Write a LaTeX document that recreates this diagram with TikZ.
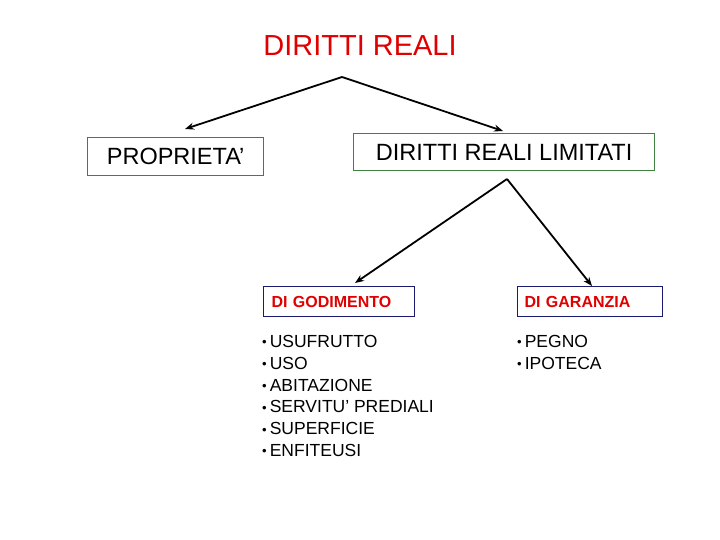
\documentclass[tikz,border=0pt]{standalone}
\usepackage{fontspec}
\setmainfont{Liberation Sans}
\usetikzlibrary{arrows.meta}
\definecolor{boxgreen}{HTML}{3F8040}
\definecolor{boxblue}{HTML}{1A1A6E}
\definecolor{tred}{HTML}{E00000}
\newcommand{\bul}{\raisebox{0.5pt}{\scalebox{0.75}{•}}\hspace{3pt}}
\tikzset{
  gbox/.style={draw=boxgreen, line width=1.3pt, inner sep=0pt, anchor=north west},
  bbox/.style={draw=boxblue, line width=1.3pt, inner sep=0pt, anchor=north west},
  arr/.style={line width=1.8pt, -{Stealth[length=9pt,width=7pt]}},
  lst/.style={anchor=north west, inner sep=0pt, align=left, font=\fontsize{17.5}{21.8}\selectfont}
}
\begin{document}
\begin{tikzpicture}[x=1pt,y=-1pt]
\useasboundingbox (0,0) rectangle (720,540);
\node[text=tred, font=\fontsize{29}{32}\selectfont] (title) at (360,46) {DIRITTI REALI};
\coordinate (a1) at (342,77);
\node[gbox, minimum width=176pt, minimum height=38pt, font=\fontsize{23.5}{26}\selectfont] (prop) at (87,137) {PROPRIETA’};
\node[gbox, minimum width=301pt, minimum height=37pt, font=\fontsize{23.5}{26}\selectfont] (lim) at (353,133) {DIRITTI REALI LIMITATI};
\coordinate (a2) at (507,179);
\node[bbox, minimum width=151pt, minimum height=30pt, text width=135pt, align=left, inner xsep=8pt, text=tred, font=\bfseries\fontsize{16}{18}\selectfont] (god) at (263,286) {DI GODIMENTO};
\node[bbox, minimum width=145pt, minimum height=30pt, text width=131pt, align=left, inner xsep=6pt, text=tred, font=\bfseries\fontsize{16}{18}\selectfont] (gar) at (517,286) {DI GARANZIA};
\draw[arr] (a1) -- (185,129);
\draw[arr] (a1) -- (503,131);
\draw[arr] (a2) -- (355,283);
\draw[arr] (a2) -- (592,286);
\node[lst] (l1) at (262,335) {\bul USUFRUTTO\\\bul USO\\\bul ABITAZIONE\\\bul SERVITU’ PREDIALI\\\bul SUPERFICIE\\\bul ENFITEUSI};
\node[lst] (l2) at (517,335) {\bul PEGNO\\\bul IPOTECA};
\end{tikzpicture}
\end{document}
